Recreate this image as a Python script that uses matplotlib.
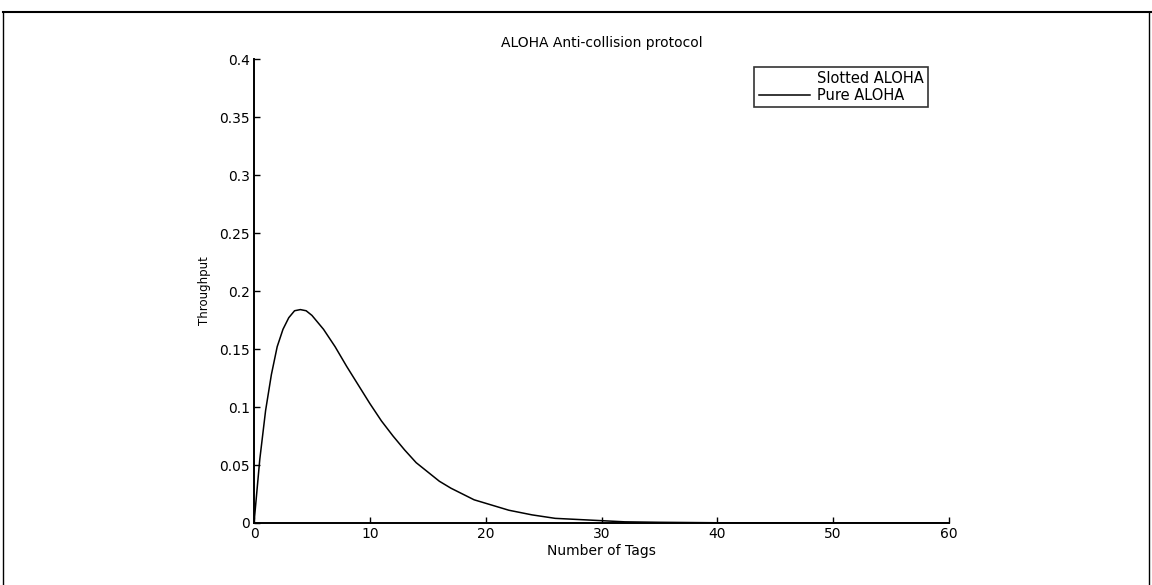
import matplotlib
matplotlib.use('Agg')
import matplotlib.pyplot as plt
from matplotlib.lines import Line2D

# Values
tags = [0, 0.5, 1, 1.5, 2, 2.5, 3, 3.5, 4, 4.5, 5, 6, 7, 8, 9, 10, 11, 12, 13, 14, 15,
        16, 17, 18, 19, 20, 22, 24, 26, 28, 30, 32, 35, 40, 45, 50, 55, 60]
pure_aloha = [0, 0.055, 0.097, 0.128, 0.152, 0.167, 0.177, 0.183, 0.184, 0.183, 0.179,
              0.167, 0.152, 0.135, 0.119, 0.103, 0.088, 0.075, 0.063, 0.052, 0.044,
              0.036, 0.030, 0.025, 0.020, 0.017, 0.011, 0.007, 0.004, 0.003, 0.002,
              0.001, 0.0006, 0.0002, 0.0001, 0, 0, 0]
x_ticks = [0, 10, 20, 30, 40, 50, 60]
y_ticks = [0, 0.05, 0.1, 0.15, 0.2, 0.25, 0.3, 0.35, 0.4]
y_labels = ['0', '0.05', '0.1', '0.15', '0.2', '0.25', '0.3', '0.35', '0.4']

fig = plt.figure(figsize=(11.52, 5.85), dpi=100)
ax = fig.add_axes([0.2205, 0.106, 0.6033, 0.793])

# slotted ALOHA curve is lost in the scan, only its legend entry survives
ax.plot([], [], color='white', lw=1, label='Slotted ALOHA')
ax.plot(tags, pure_aloha, color='black', lw=1.1, label='Pure ALOHA')

ax.set_xlim(0, 60)
ax.set_ylim(0, 0.4)
ax.set_xticks(x_ticks)
ax.set_yticks(y_ticks)
ax.set_yticklabels(y_labels)
ax.tick_params(direction='in', length=4, width=1, labelsize=10, pad=3)
for s in ['top', 'right']:
    ax.spines[s].set_visible(False)
for s in ['left', 'bottom']:
    ax.spines[s].set_linewidth(1.4)

ax.set_title('ALOHA Anti-collision protocol', fontsize=10, pad=9)
ax.set_xlabel('Number of Tags', fontsize=10, labelpad=2)
ax.set_ylabel('Throughput', fontsize=8.5, labelpad=6)

leg = ax.legend(loc='upper right', bbox_to_anchor=(0.97, 0.984), fontsize=10.5,
                frameon=True, fancybox=False, edgecolor='black',
                handlelength=3.5, handletextpad=0.5, borderpad=0.3,
                labelspacing=0.15, borderaxespad=0)
leg.get_frame().set_linewidth(1.2)

# border of the scanned page
fig.add_artist(Line2D([0.003, 1.0], [0.979, 0.979], transform=fig.transFigure,
                      color='black', lw=1.5))
fig.add_artist(Line2D([0.003, 0.003], [0.0, 0.979], transform=fig.transFigure,
                      color='black', lw=1))
fig.add_artist(Line2D([0.997, 0.997], [0.0, 0.979], transform=fig.transFigure,
                      color='black', lw=1))

fig.savefig('out.png', dpi=100)
